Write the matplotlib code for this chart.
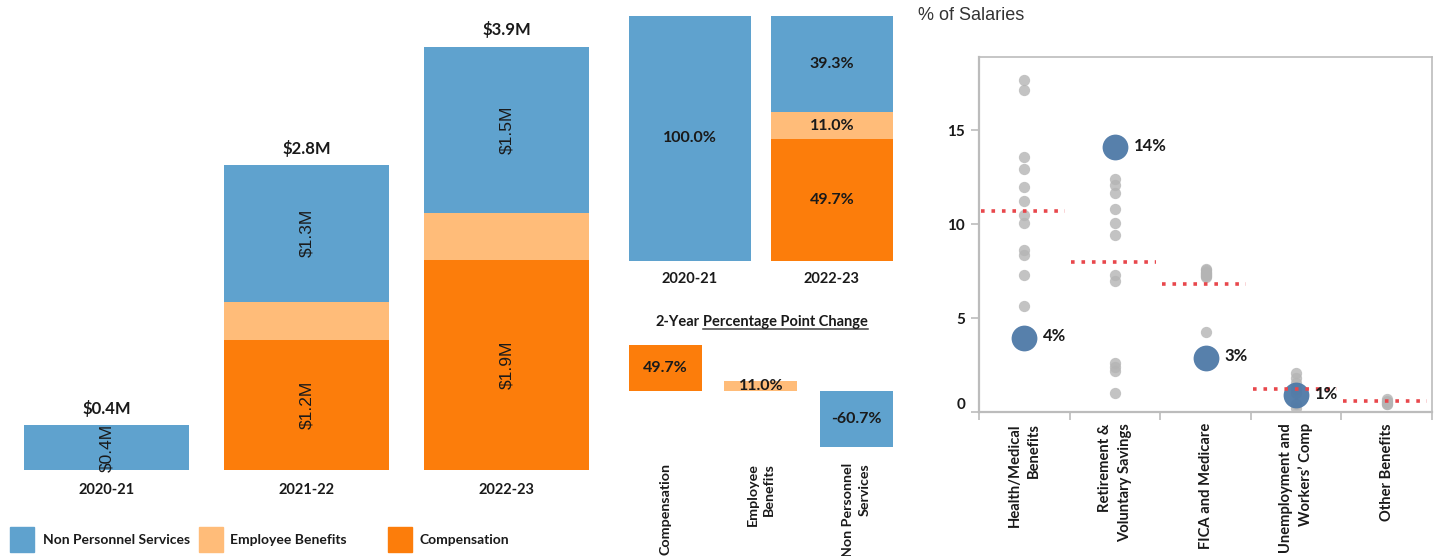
import matplotlib
matplotlib.use("Agg")
import matplotlib.pyplot as plt
from matplotlib.patches import Rectangle
from matplotlib.lines import Line2D
import numpy as np

# ---------------- data ----------------
years = ["2020-21", "2021-22", "2022-23"]
compensation = [0.0, 1.20, 1.938]      # $M
employee_benefits = [0.0, 0.35, 0.429]  # $M
non_personnel = [0.41, 1.26, 1.533]     # $M

series_names = ["Non Personnel Services", "Employee Benefits", "Compensation"]
change_labels = ["Compensation", "Employee\nBenefits", "Non Personnel\nServices"]

benefit_types = ["Health/Medical\nBenefits", "Retirement &\nVoluntary Savings",
                 "FICA and Medicare", "Unemployment and\nWorkers\u2019 Comp",
                 "Other Benefits"]
peer_health = [17.7, 17.15, 13.6, 12.95, 12.0, 11.25, 10.5, 10.05, 8.6, 8.35, 7.3, 5.65]
peer_retirement = [12.4, 12.1, 11.65, 10.8, 10.05, 9.4, 7.3, 6.95, 2.6, 2.4, 2.2, 1.0]
peer_fica = [7.62, 7.55, 7.48, 7.42, 7.36, 7.3, 7.24, 7.18, 4.25]
peer_unemployment = [2.05, 1.8, 1.55, 1.25, 1.0, 0.45, 0.2]
peer_other = [0.68, 0.6, 0.52, 0.45, 0.4]
own_share = [3.95, 14.1, 2.9, 0.9, np.nan]
group_average = [10.7, 8.0, 6.83, 1.22, 0.57]

# ---------------- style ----------------
C_NPS = "#5fa2ce"
C_BEN = "#ffbc79"
C_COMP = "#fc7d0b"
TXT = "#1a1a1a"
BOLD_FONT = ["Lato", "DejaVu Sans"]
PLAIN_FONT = ["Liberation Sans", "DejaVu Sans"]

W, H = 1435, 556
fig = plt.figure(figsize=(W / 100, H / 100), dpi=100)


def axes_px(left, top, right, bottom):
    return fig.add_axes([left / W, 1 - bottom / H, (right - left) / W, (bottom - top) / H])


def clean(ax):
    for s in ax.spines.values():
        s.set_visible(False)
    ax.set_yticks([])
    ax.tick_params(axis="x", length=0)


def style_labels(labels, size, rotate=False, spacing=1.2):
    for lab in labels:
        if rotate:
            lab.set_rotation(90); lab.set_va("top"); lab.set_ha("center")
            lab.set_multialignment("right")
            lab.set_linespacing(spacing)
        lab.set_fontweight("bold"); lab.set_family(BOLD_FONT)
        lab.set_fontsize(size); lab.set_color(TXT)


# ---------------- stacked totals by year ----------------
ax1 = axes_px(6.5, 14, 606.5, 470)
clean(ax1)
x = np.arange(len(years))
comp = np.array(compensation)
ben = np.array(employee_benefits)
nps = np.array(non_personnel)
bw = 0.825
ax1.bar(x, comp, bw, color=C_COMP, zorder=2)
ax1.bar(x, ben, bw, bottom=comp, color=C_BEN, zorder=2)
ax1.bar(x, nps, bw, bottom=comp + ben, color=C_NPS, zorder=2)
ax1.set_xlim(-0.5, 2.5)
ax1.set_ylim(0, 4.2)
for i in range(len(years)):
    for val, base in ((comp[i], 0), (nps[i], comp[i] + ben[i])):
        if val > 0:
            ax1.text(i, base + val / 2, f"${val:.1f}M", rotation=90, ha="center",
                     va="center", fontsize=12.5, family=PLAIN_FONT, color=TXT, zorder=3)
    total = comp[i] + ben[i] + nps[i]
    ax1.annotate(f"${total:.1f}M", (i, total), xytext=(0, 6), textcoords="offset points",
                 ha="center", va="bottom", fontsize=12, fontweight="bold",
                 family=BOLD_FONT, color=TXT)
ax1.set_xticks(x, years)
ax1.tick_params(axis="x", pad=9)
style_labels(ax1.get_xticklabels(), 10.5)

# ---------------- 100% share: first vs last year ----------------
ax2 = axes_px(619, 15.5, 903, 261)
clean(ax2)
idx = [0, len(years) - 1]
tot = comp + ben + nps
share_comp = comp / tot * 100
share_ben = ben / tot * 100
share_nps = nps / tot * 100
xs = np.arange(2)
bw2 = 0.859
ax2.bar(xs, share_comp[idx], bw2, color=C_COMP)
ax2.bar(xs, share_ben[idx], bw2, bottom=share_comp[idx], color=C_BEN)
ax2.bar(xs, share_nps[idx], bw2, bottom=share_comp[idx] + share_ben[idx], color=C_NPS)
ax2.set_xlim(-0.5, 1.5)
ax2.set_ylim(0, 100)
for j, i in enumerate(idx):
    base = 0
    for val in (share_comp[i], share_ben[i], share_nps[i]):
        if val > 0:
            ax2.text(j, base + val / 2, f"{val:.1f}%", ha="center", va="center",
                     fontsize=11.5, fontweight="bold", family=BOLD_FONT, color=TXT)
        base += val
ax2.set_xticks(xs, [years[i] for i in idx])
ax2.tick_params(axis="x", pad=8)
style_labels(ax2.get_xticklabels(), 10.5)

# ---------------- percentage point change ----------------
ax3 = axes_px(617.8, 340, 903.8, 452)
clean(ax3)
change = [share_comp[-1] - share_comp[0], share_ben[-1] - share_ben[0],
          share_nps[-1] - share_nps[0]]
xc = np.arange(3)
ax3.bar(xc, change, 0.766, color=[C_COMP, C_BEN, C_NPS])
ax3.set_xlim(-0.5, 2.5)
ax3.set_ylim(-66, 55.2)
for i, v in enumerate(change):
    ax3.text(i, v / 2, f"{v:.1f}%", ha="center", va="center", fontsize=11.5,
             fontweight="bold", family=BOLD_FONT, color=TXT)
ax3.set_xticks(xc, change_labels)
ax3.tick_params(axis="x", pad=8)
style_labels(ax3.get_xticklabels(), 10.3, rotate=True, spacing=1.45)

# title with underlined part
renderer = fig.canvas.get_renderer()
ty = 1 - 322 / H
t_a = fig.text(0, ty, "2-Year", ha="left", va="center", fontsize=10.5,
               fontweight="bold", family=BOLD_FONT, color=TXT)
t_b = fig.text(0, ty, "Percentage Point Change", ha="left", va="center", fontsize=10.5,
               fontweight="bold", family=BOLD_FONT, color=TXT)
wa = t_a.get_window_extent(renderer).width
wb = t_b.get_window_extent(renderer).width
gap = 4
x0 = 761.5 - (wa + gap + wb) / 2
t_a.set_x(x0 / W)
t_b.set_x((x0 + wa + gap) / W)
bb = t_b.get_window_extent(renderer)
fig.add_artist(Line2D([bb.x0 / W, bb.x1 / W], [(bb.y0 + 0.5) / H] * 2,
                      color="#444444", lw=1.1, transform=fig.transFigure))

# ---------------- benefits as % of salaries ----------------
ax4 = axes_px(979, 57, 1432, 412)
peers = [peer_health, peer_retirement, peer_fica, peer_unemployment, peer_other]
for i, vals in enumerate(peers):
    ax4.scatter([i] * len(vals), vals, s=66, color="#b4b4b4", alpha=0.8,
                linewidths=0, zorder=2)
for i, v in enumerate(own_share):
    if np.isfinite(v):
        ax4.scatter([i], [v], s=345, color="#4e79a7", alpha=0.95, linewidths=0, zorder=3)
        ax4.annotate(f"{v:.0f}%", (i, v), xytext=(13.5, 1), textcoords="offset points",
                     ha="left", va="center", fontsize=12, fontweight="bold",
                     family=BOLD_FONT, color=TXT, zorder=5)
for i, a in enumerate(group_average):
    ax4.plot([i - 0.48, i + 0.45], [a, a], color="#e8474c", lw=2.6,
             linestyle=(0, (1.0, 1.9)), zorder=4, solid_capstyle="butt")
ax4.set_xlim(-0.5, len(benefit_types) - 0.5)
ax4.set_ylim(0, 18.9)
for s in ax4.spines.values():
    s.set_color("#bcbcbc"); s.set_linewidth(1.2)
ax4.spines["bottom"].set_linewidth(1.6)
ax4.spines["left"].set_linewidth(1.6)
ax4.set_yticks([0, 5, 10, 15])
ax4.tick_params(axis="y", length=6, width=1.2, color="#bcbcbc", pad=4)
style_labels(ax4.get_yticklabels(), 11)
ax4.get_yticklabels()[0].set_va("bottom")
ax4.set_xticks(np.arange(-0.5, len(benefit_types)))
ax4.set_xticklabels([])
ax4.tick_params(axis="x", which="major", length=6, width=1.2, color="#bcbcbc")
ax4.set_xticks(np.arange(len(benefit_types)), minor=True)
ax4.set_xticklabels(benefit_types, minor=True)
ax4.tick_params(axis="x", which="minor", length=0, pad=8)
style_labels(ax4.get_xticklabels(minor=True), 10.6, rotate=True, spacing=1.5)

fig.text(918 / W, 1 - 15 / H, "% of Salaries", ha="left", va="center", fontsize=13,
         family=PLAIN_FONT, color="#333333")

# ---------------- legend ----------------
legend_items = [(series_names[0], C_NPS, 10, 43), (series_names[1], C_BEN, 199, 230),
                (series_names[2], C_COMP, 388, 420)]
for name, col, sx, tx in legend_items:
    fig.add_artist(Rectangle((sx / W, 1 - 552 / H), 24 / W, 25 / H, color=col,
                             transform=fig.transFigure))
    fig.text(tx / W, 1 - 540 / H, name, ha="left", va="center", fontsize=10,
             fontweight="bold", family=BOLD_FONT, color=TXT)

fig.savefig("out.png", dpi=100)
